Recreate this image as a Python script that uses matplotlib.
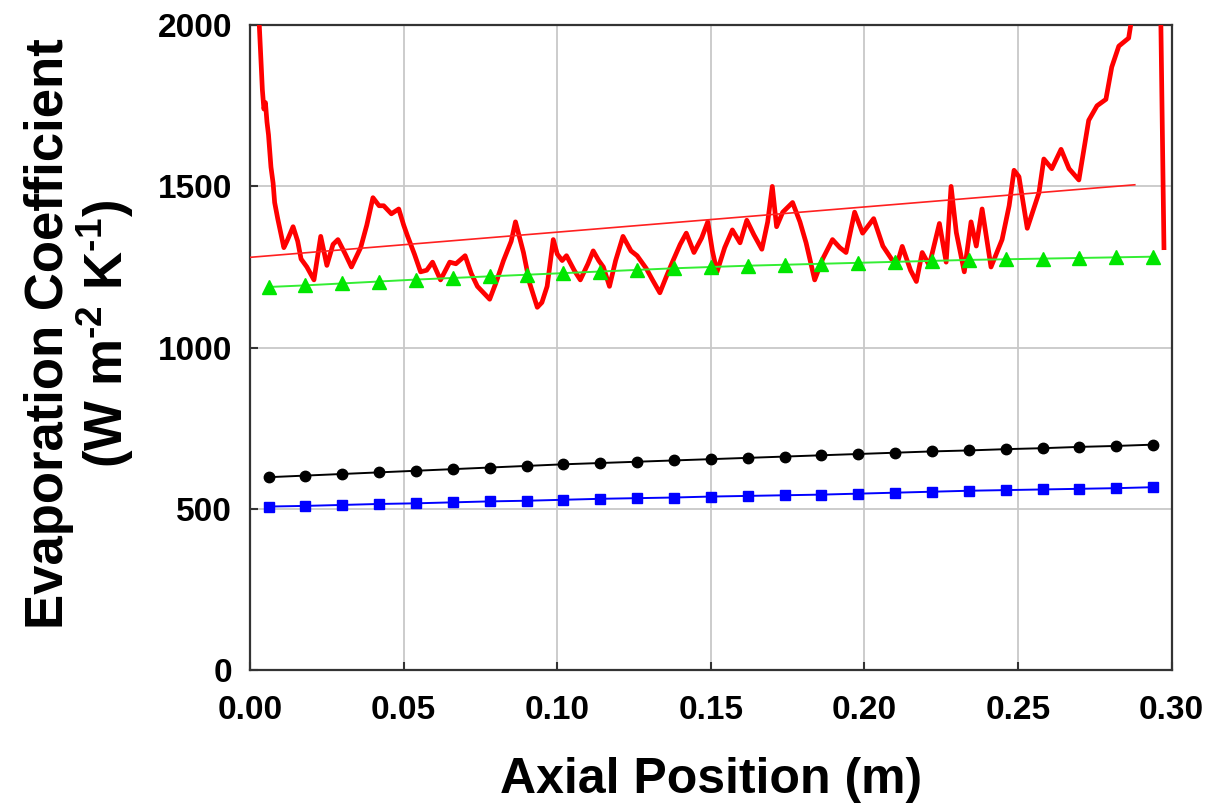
import matplotlib

matplotlib.use("Agg")
import matplotlib.pyplot as plt

# noisy measured evaporation coefficient (red trace)
meas_x = [
    0.0020, 0.0030, 0.0040, 0.0045, 0.0050, 0.0055, 0.0060, 0.0068, 0.0075, 0.0080,
    0.0090, 0.0100, 0.0110, 0.0120, 0.0140, 0.0155, 0.0166, 0.0185, 0.0208, 0.0230,
    0.0250, 0.0270, 0.0286, 0.0310, 0.0330, 0.0360, 0.0380, 0.0400, 0.0420, 0.0435,
    0.0460, 0.0484, 0.0500, 0.0513, 0.0535, 0.0555, 0.0575, 0.0594, 0.0620, 0.0650,
    0.0670, 0.0700, 0.0720, 0.0740, 0.0760, 0.0780, 0.0800, 0.0825, 0.0850, 0.0864,
    0.0890, 0.0910, 0.0935, 0.0950, 0.0967, 0.0987, 0.1000, 0.1016, 0.1030, 0.1055,
    0.1075, 0.1100, 0.1117, 0.1135, 0.1150, 0.1170, 0.1190, 0.1214, 0.1240, 0.1260,
    0.1290, 0.1310, 0.1334, 0.1355, 0.1377, 0.1400, 0.1420, 0.1445, 0.1470, 0.1490,
    0.1505, 0.1520, 0.1545, 0.1570, 0.1595, 0.1617, 0.1640, 0.1666, 0.1685, 0.1700,
    0.1714, 0.1734, 0.1766, 0.1790, 0.1810, 0.1838, 0.1864, 0.1896, 0.1920, 0.1940,
    0.1968, 0.1994, 0.2030, 0.2060, 0.2104, 0.2123, 0.2150, 0.2169, 0.2188, 0.2211,
    0.2244, 0.2266, 0.2282, 0.2299, 0.2325, 0.2347, 0.2364, 0.2383, 0.2412, 0.2448,
    0.2471, 0.2487, 0.2503, 0.2530, 0.2568, 0.2584, 0.2610, 0.2640, 0.2666, 0.2698,
    0.2730, 0.2757, 0.2786, 0.2805, 0.2828, 0.2860, 0.2875, 0.2900, 0.2960, 0.2965,
    0.2975,
]
meas_y = [
    2300, 2000, 1800, 1740, 1760, 1700, 1660, 1560, 1510, 1450,
    1400, 1355, 1310, 1330, 1375, 1330, 1275, 1250, 1210, 1345,
    1255, 1320, 1335, 1290, 1250, 1310, 1380, 1465, 1440, 1440,
    1415, 1430, 1380, 1345, 1290, 1235, 1240, 1265, 1210, 1265,
    1260, 1285, 1230, 1190, 1170, 1150, 1200, 1270, 1330, 1390,
    1295, 1200, 1125, 1140, 1190, 1335, 1290, 1270, 1285, 1240,
    1210, 1260, 1300, 1270, 1250, 1190, 1270, 1345, 1300, 1285,
    1245, 1210, 1170, 1220, 1270, 1320, 1355, 1295, 1340, 1390,
    1300, 1235, 1310, 1365, 1325, 1395, 1350, 1305, 1390, 1500,
    1375, 1420, 1450, 1390, 1325, 1210, 1275, 1335, 1310, 1295,
    1420, 1355, 1400, 1315, 1252, 1314, 1240, 1205, 1295, 1255,
    1385, 1265, 1500, 1357, 1235, 1390, 1315, 1430, 1250, 1335,
    1440, 1550, 1530, 1370, 1480, 1585, 1555, 1615, 1555, 1520,
    1705, 1750, 1770, 1870, 1935, 1960, 2050, 2300, 2300, 2000,
    1310,
]

# linear fit of the measured trace
fit_x = [0.0, 0.288]
fit_y = [1280, 1505]

# model predictions
model_x = [
    0.006, 0.018, 0.030, 0.042, 0.054, 0.066, 0.078, 0.090, 0.102, 0.114,
    0.126, 0.138, 0.150, 0.162, 0.174, 0.186, 0.198, 0.210, 0.222, 0.234,
    0.246, 0.258, 0.270, 0.282, 0.294,
]
green_y = [
    1188, 1193, 1199, 1205, 1211, 1216, 1221, 1226, 1231, 1236,
    1241, 1246, 1250, 1254, 1257, 1260, 1263, 1266, 1269, 1272,
    1274, 1276, 1278, 1280, 1282,
]
black_y = [
    598, 603, 608, 613, 618, 623, 628, 633, 638, 642,
    646, 650, 654, 658, 662, 666, 670, 674, 678, 681,
    685, 688, 692, 695, 699,
]
blue_y = [
    507, 509, 512, 515, 517, 520, 523, 525, 528, 531,
    533, 535, 538, 540, 542, 544, 547, 550, 553, 556,
    558, 560, 562, 564, 567,
]

x_ticks = [0.00, 0.05, 0.10, 0.15, 0.20, 0.25, 0.30]
x_tick_labels = ["0.00", "0.05", "0.10", "0.15", "0.20", "0.25", "0.30"]
y_ticks = [0, 500, 1000, 1500, 2000]


def main() -> None:
    plt.rcParams["font.family"] = ["Liberation Sans", "DejaVu Sans"]
    plt.rcParams["font.weight"] = "bold"
    plt.rcParams["mathtext.fontset"] = "custom"
    plt.rcParams["mathtext.rm"] = "Liberation Sans:bold"
    plt.rcParams["mathtext.it"] = "Liberation Sans:bold"
    plt.rcParams["mathtext.bf"] = "Liberation Sans:bold"
    plt.rcParams["mathtext.default"] = "regular"

    fig = plt.figure(figsize=(12.11, 8.05), dpi=100)
    ax = fig.add_axes([0.2065, 0.1677, 0.761, 0.801])

    ax.grid(True, color="#c8c8c8", lw=1.3, zorder=0)
    ax.set_axisbelow(True)

    ax.plot(meas_x, meas_y, color="#ff0000", lw=3.4, zorder=3)
    ax.plot(fit_x, fit_y, color="#ff2020", lw=1.2, zorder=4)
    ax.plot(model_x, green_y, color="#33ee33", lw=1.4, marker="^", ms=10,
            mfc="#00e600", mec="#00e600", zorder=5)
    ax.plot(model_x, black_y, color="black", lw=1.4, marker="o", ms=7.5,
            mfc="black", mec="black", zorder=5)
    ax.plot(model_x, blue_y, color="#0000ff", lw=1.4, marker="s", ms=7,
            mfc="#0000ff", mec="#0000ff", zorder=5)

    ax.set_xlim(0, 0.30)
    ax.set_ylim(0, 2000)
    ax.set_xticks(x_ticks)
    ax.set_xticklabels(x_tick_labels)
    ax.set_yticks(y_ticks)
    ax.tick_params(direction="in", length=6, width=1.5, labelsize=24, color="#333333")
    ax.tick_params(axis="x", pad=18)
    ax.tick_params(axis="y", pad=13)
    for lab in ax.get_xticklabels() + ax.get_yticklabels():
        lab.set_fontweight("bold")
    for spine in ax.spines.values():
        spine.set_linewidth(1.6)
        spine.set_color("#333333")

    ax.set_xlabel("Axial Position (m)", fontsize=36, fontweight="bold", labelpad=22)
    fig.text(
        0.066, 0.585,
        "Evaporation Coefficient\n(W m$^{\u2010 2}$ K$^{\u2010 1}$)",
        rotation=90, ha="center", va="center", multialignment="center",
        fontsize=38, fontweight="bold", linespacing=1.0,
    )

    fig.savefig("out.png", dpi=100)


if __name__ == "__main__":
    main()
